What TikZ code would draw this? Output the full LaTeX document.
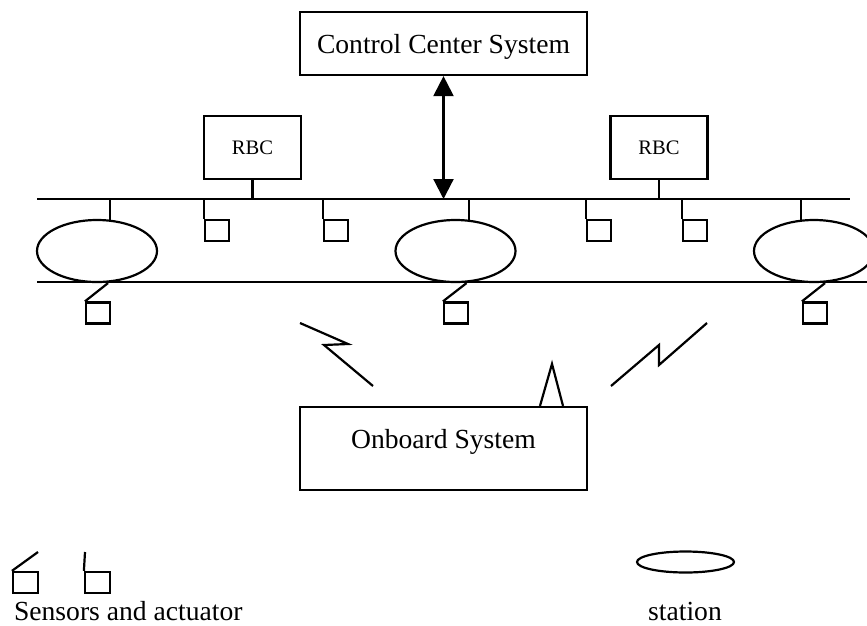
\documentclass[tikz,border=0pt]{standalone}
\usepackage{fontspec}
\setmainfont{Liberation Serif}
\usetikzlibrary{shapes.geometric,arrows.meta}
\tikzset{
  sysbox/.style={draw, line width=2.2pt, minimum width=287pt, inner sep=0pt, font=\fontsize{27.6}{33}\selectfont},
  rbcbox/.style={draw, line width=2.2pt, minimum width=97pt, minimum height=63pt, inner sep=0pt, font=\fontsize{20.6}{25}\selectfont},
  station/.style={draw, ellipse, line width=2.2pt, minimum width=120pt, minimum height=62pt, inner sep=0pt},
  sensorbox/.style={draw, line width=2.2pt, minimum width=24pt, minimum height=21pt, inner sep=0pt},
  legendtext/.style={inner sep=0pt, font=\fontsize{27.6}{33}\selectfont}
}

\begin{document}
\begin{tikzpicture}[x=1pt, y=-1pt, line width=2.2pt, >={Triangle[length=20pt,width=20pt]}]
  \useasboundingbox (0,0) rectangle (867,625);
  % systems
  \node[sysbox, minimum height=63pt, text height=20pt, text depth=0pt] (ccs) at (443.5,43.5) {Control Center System};
  \node[sysbox, minimum height=83pt, text height=15pt, text depth=15pt] (obs) at (443.5,448.5) {Onboard System};
  \node[rbcbox] (rbcL) at (252.5,147.5) {RBC};
  \node[rbcbox] (rbcR) at (659,147.5) {RBC};
  % bus lines
  \coordinate (busTL) at (37,199);
  \coordinate (busTR) at (850,199);
  \coordinate (busBL) at (37,282);
  \coordinate (busBR) at (867,282);
  \draw (busTL) -- (busTR);
  \draw (busBL) -- (busBR);
  \draw (rbcL.south) -- (rbcL.south |- busTL);
  \draw (rbcR.south) -- (rbcR.south |- busTL);
  \draw[<->] (ccs.south) -- (ccs.south |- busTL);
  % stations
  \node[station] (stL) at (97,251) {};
  \node[station] (stM) at (455.5,251) {};
  \node[station] (stR) at (814,251) {};
  \draw (stL.68) -- (stL.68 |- busTL);
  \draw (stM.67) -- (stM.67 |- busTL);
  \draw (stR.112) -- (stR.112 |- busTL);
  % sensors and actuators
  \foreach \n/\x in {1/217, 2/336, 3/599, 4/695} {
    \node[sensorbox] (s\n) at (\x,230.5) {};
    \draw (s\n.north west) -- (s\n.north west |- busTL);
  }
  \foreach \st/\x in {stL/98, stM/456, stR/815} {
    \node[sensorbox] (b\st) at (\x,313) {};
    \draw ([xshift=11pt]\st.south) -- (b\st.north west);
  }
  % antenna and radio links
  \draw ([xshift=96.5pt]obs.north) -- ++(12,-42) -- ++(11,42);
  \draw (300,323) -- (348,344) -- (324,345) -- (373,386);
  \draw (611,386) -- (659,345) -- (659,365) -- (707,323);
  % legend
  \node[sensorbox, minimum width=25pt] (lgA) at (25.5,582.5) {};
  \coordinate (lgAtop) at (38,552);
  \draw (lgAtop) -- (lgA.north west);
  \node[sensorbox, minimum width=25pt] (lgB) at (97.5,582.5) {};
  \coordinate (lgBtop) at (85,552);
  \draw (lgBtop) -- (lgB.north west);
  \node[legendtext, anchor=base west] (lgSens) at (13,620) {Sensors and actuator};
  \node[station, minimum width=97pt, minimum height=21pt] (lgSt) at (685.5,562) {};
  \node[legendtext, anchor=base] (lgStat) at (685,620) {station};
\end{tikzpicture}
\end{document}
